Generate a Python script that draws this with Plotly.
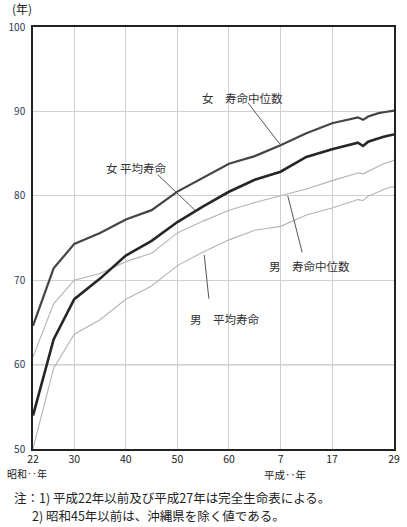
import plotly.graph_objects as go

# 年次（西暦）: 昭和22年=1947, 昭和25-27年は1951で表示
years = [1947, 1951, 1955, 1960, 1965, 1970, 1975, 1980, 1985, 1990, 1995,
         2000, 2005, 2010, 2011, 2012, 2013, 2014, 2015, 2016, 2017]

# 女 寿命中位数
female_median = [64.6, 71.4, 74.3, 75.6, 77.2, 78.3, 80.5, 82.2, 83.8, 84.7, 86.0,
                 87.4, 88.6, 89.3, 89.0, 89.4, 89.6, 89.8, 89.9, 90.0, 90.1]
# 女 平均寿命
female_mean = [53.96, 62.97, 67.75, 70.19, 72.92, 74.66, 76.89, 78.76, 80.48, 81.90, 82.85,
               84.60, 85.52, 86.30, 85.90, 86.41, 86.61, 86.83, 86.99, 87.14, 87.26]
# 男 寿命中位数
male_median = [60.9, 67.2, 70.0, 70.8, 72.2, 73.2, 75.6, 77.0, 78.3, 79.2, 80.0,
               80.8, 81.8, 82.7, 82.6, 82.9, 83.2, 83.5, 83.8, 84.0, 84.2]
# 男 平均寿命
male_mean = [50.06, 59.57, 63.60, 65.32, 67.74, 69.31, 71.73, 73.35, 74.78, 75.92, 76.38,
             77.72, 78.56, 79.55, 79.44, 79.94, 80.21, 80.50, 80.75, 80.98, 81.09]

tick_years = [1947, 1955, 1965, 1975, 1985, 1995, 2005, 2017]
tick_labels = ["22", "30", "40", "50", "60", "7", "17", "29"]

FONT = "Noto Sans CJK JP"

fig = go.Figure()

# 男性は細い灰色、女性は太い黒線
fig.add_trace(go.Scatter(x=years, y=male_mean, mode="lines",
                         line=dict(color="#b4b4b4", width=1.1)))
fig.add_trace(go.Scatter(x=years, y=male_median, mode="lines",
                         line=dict(color="#b4b4b4", width=1.1)))
fig.add_trace(go.Scatter(x=years, y=female_median, mode="lines",
                         line=dict(color="#454545", width=2.2)))
fig.add_trace(go.Scatter(x=years, y=female_mean, mode="lines",
                         line=dict(color="#262626", width=2.6)))

# 系列ラベルと引出線
labels = [
    ("女　寿命中位数", 1987.7, 91.6, (1988.7, 91.0), (1994.9, 86.1)),
    ("女 平均寿命", 1967.0, 83.3, (1971.2, 82.5), (1978.4, 78.3)),
    ("男　寿命中位数", 2000.7, 71.7, (1996.4, 80.0), (1999.2, 73.3)),
    ("男　平均寿命", 1984.2, 65.4, (1980.2, 73.0), (1981.1, 67.8)),
]
for text, tx, ty, p0, p1 in labels:
    fig.add_annotation(x=tx, y=ty, text=text, showarrow=False,
                       font=dict(family=FONT, size=11.5, color="#333333"))
    fig.add_shape(type="line", x0=p0[0], y0=p0[1], x1=p1[0], y1=p1[1],
                  xref="x", yref="y", line=dict(color="#555555", width=1))

# 60年の横線は少し濃い
fig.add_shape(type="line", xref="paper", x0=0, x1=1, yref="y", y0=60, y1=60,
              line=dict(color="#9a9a9a", width=1.2), layer="below")


def note(text, x, y, size, anchor="center"):
    fig.add_annotation(xref="paper", yref="paper", x=x, y=y, text=text,
                       showarrow=False, xanchor=anchor, yanchor="middle",
                       font=dict(family=FONT, size=size, color="#222222"))


note("(年)", -0.064, 1.045, 12, "left")
note("昭和‥年", -0.017, -0.057, 10)
note("平成‥年", 0.698, -0.06, 10.5)
note("注：1) 平成22年以前及び平成27年は完全生命表による。", -0.058, -0.116, 12.5, "left")
note("2) 昭和45年以前は、沖縄県を除く値である。", -0.008, -0.157, 12.5, "left")

fig.update_xaxes(range=[1947, 2017], tickvals=tick_years, ticktext=tick_labels,
                 showgrid=True, gridcolor="#cfcfcf", gridwidth=1,
                 showline=True, linecolor="#222222", linewidth=1.6, mirror=True,
                 ticks="", zeroline=False, automargin=False,
                 tickfont=dict(family=FONT, size=10.5, color="#222222"))
fig.update_yaxes(range=[50, 100], dtick=10,
                 showgrid=True, gridcolor="#cfcfcf", gridwidth=1,
                 showline=True, linecolor="#222222", linewidth=1.6, mirror=True,
                 ticks="", zeroline=False, automargin=False, ticklabelstandoff=4,
                 tickfont=dict(family=FONT, size=10, color="#2b3a55"))

fig.update_layout(
    width=407, height=527,
    margin=dict(l=33, r=13, t=27, b=78),
    showlegend=False,
    plot_bgcolor="white",
    paper_bgcolor="white",
    font=dict(family=FONT),
)

# ページ本体の既定余白を消して図を左上に合わせる
fig.write_html("out.html", config={"displayModeBar": False},
               post_script="document.body.style.margin='0';")
